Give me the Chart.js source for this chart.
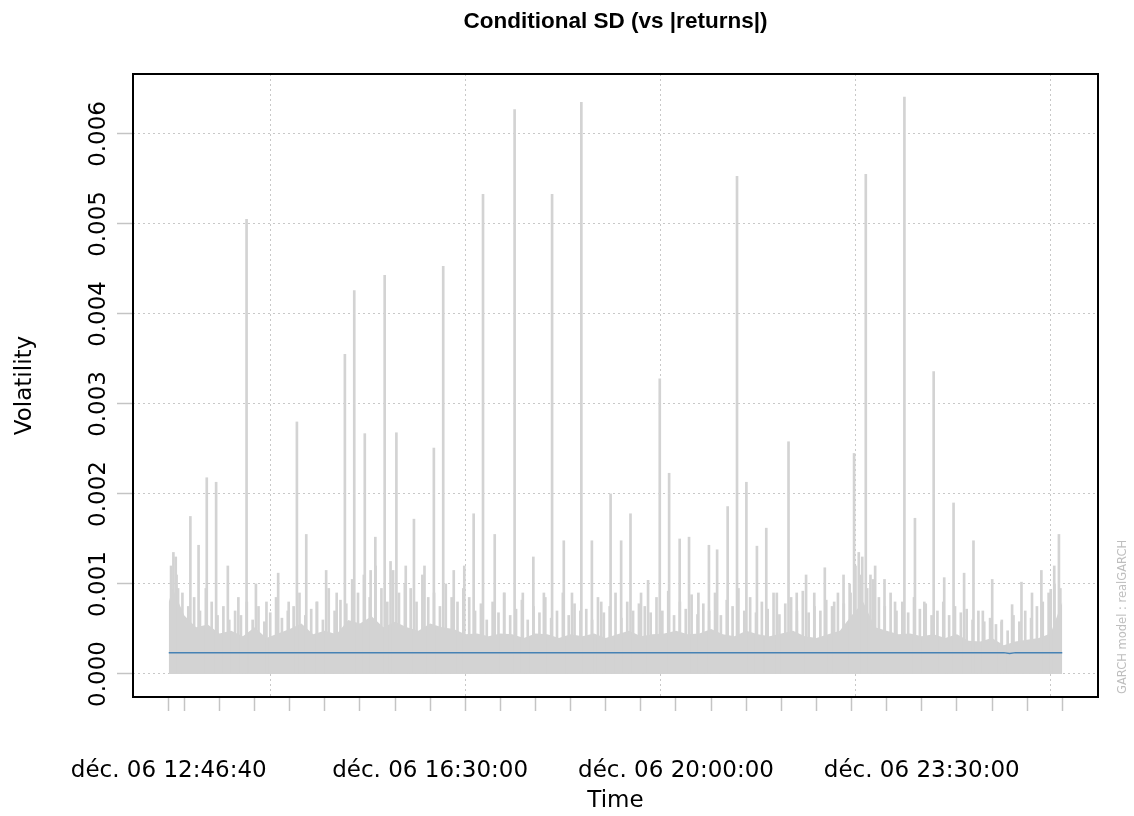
<!DOCTYPE html>
<html><head><meta charset="utf-8">
<script src="https://cdn.jsdelivr.net/npm/chart.js@4.4.1/dist/chart.umd.min.js"></script>
<style>html,body{margin:0;padding:0;background:#fff;}canvas{display:block;}</style>
</head><body>
<canvas id="c" width="1134" height="816"></canvas>
<script>
const chartTitle = 'Conditional SD (vs |returns|)';
const xAxisTitle = 'Time';
const yAxisTitle = 'Volatility';
const sideNote = 'GARCH model : realGARCH';

// time = minutes after déc. 06 12:00:00
const xTickTimes = [46.667, 60, 90, 120, 150, 180, 210, 240, 270, 300, 330, 360, 390, 420, 450, 480, 510, 540, 570, 600, 630, 660, 690, 720, 750, 780, 810];
const xTickLabels = ['déc. 06 12:46:40', '', '', '', '', '', '', '', 'déc. 06 16:30:00', '', '', '', '', '', '', 'déc. 06 20:00:00', '', '', '', '', '', '', 'déc. 06 23:30:00', '', '', '', ''];
const xGridTimes = [133.333, 300, 466.667, 633.333, 800];
const yTickValues = [0, 0.001, 0.002, 0.003, 0.004, 0.005, 0.006];
const yTickLabels = ['0.000', '0.001', '0.002', '0.003', '0.004', '0.005', '0.006'];

// |returns| : dense body level
const massTimes = [46.667, 50, 60, 70, 80, 90, 100, 110, 120, 130, 140, 150, 160, 170, 180, 190, 200, 210, 220, 230, 240, 250, 260, 270, 280, 290, 300, 310, 320, 330, 340, 350, 360, 370, 380, 390, 400, 410, 420, 430, 440, 450, 460, 470, 480, 490, 500, 510, 520, 530, 540, 550, 560, 570, 580, 590, 600, 610, 620, 630, 640, 650, 660, 670, 680, 690, 700, 710, 720, 730, 740, 750, 760, 770, 780, 790, 800, 810];
const massValues = [0.00080, 0.00095, 0.00065, 0.00052, 0.00055, 0.00045, 0.00048, 0.00042, 0.00052, 0.00040, 0.00045, 0.00050, 0.00056, 0.00044, 0.00048, 0.00044, 0.00060, 0.00056, 0.00064, 0.00052, 0.00058, 0.00052, 0.00048, 0.00056, 0.00052, 0.00050, 0.00044, 0.00045, 0.00042, 0.00045, 0.00044, 0.00040, 0.00045, 0.00044, 0.00040, 0.00044, 0.00042, 0.00045, 0.00040, 0.00044, 0.00048, 0.00042, 0.00044, 0.00045, 0.00048, 0.00044, 0.00045, 0.00050, 0.00044, 0.00042, 0.00048, 0.00044, 0.00042, 0.00045, 0.00048, 0.00042, 0.00040, 0.00044, 0.00048, 0.00065, 0.00080, 0.00052, 0.00048, 0.00044, 0.00045, 0.00042, 0.00044, 0.00040, 0.00044, 0.00037, 0.00036, 0.00040, 0.00032, 0.00036, 0.00038, 0.00040, 0.00045, 0.00080];

// |returns| : medium-height fringe of thin lines
const fringeTimes = [52.5, 57.5, 62.5, 67.5, 72.5, 77.5, 82.5, 87.5, 92.5, 97.5, 102.5, 107.5, 112.5, 117.5, 122.5, 127.5, 132.5, 137.5, 142.5, 147.5, 152.5, 157.5, 162.5, 167.5, 172.5, 177.5, 182.5, 187.5, 192.5, 197.5, 202.5, 207.5, 212.5, 217.5, 222.5, 227.5, 232.5, 237.5, 242.5, 247.5, 252.5, 257.5, 262.5, 267.5, 272.5, 277.5, 282.5, 287.5, 292.5, 297.5, 302.5, 307.5, 312.5, 317.5, 322.5, 327.5, 332.5, 337.5, 342.5, 347.5, 352.5, 357.5, 362.5, 367.5, 372.5, 377.5, 382.5, 387.5, 392.5, 397.5, 402.5, 407.5, 412.5, 417.5, 422.5, 427.5, 432.5, 437.5, 442.5, 447.5, 452.5, 457.5, 462.5, 467.5, 472.5, 477.5, 482.5, 487.5, 492.5, 497.5, 502.5, 507.5, 512.5, 517.5, 522.5, 527.5, 532.5, 537.5, 542.5, 547.5, 552.5, 557.5, 562.5, 567.5, 572.5, 577.5, 582.5, 587.5, 592.5, 597.5, 602.5, 607.5, 612.5, 617.5, 622.5, 627.5, 632.5, 637.5, 642.5, 647.5, 652.5, 657.5, 662.5, 667.5, 672.5, 677.5, 682.5, 687.5, 692.5, 697.5, 702.5, 707.5, 712.5, 717.5, 722.5, 727.5, 732.5, 737.5, 742.5, 747.5, 752.5, 757.5, 762.5, 767.5, 772.5, 777.5, 782.5, 787.5, 792.5, 797.5, 802.5, 807.5];
const fringeValues = [0.00110, 0.00090, 0.00075, 0.00085, 0.00070, 0.00095, 0.00080, 0.00065, 0.00075, 0.00060,
  0.00070, 0.00065, 0.00080, 0.00060, 0.00075, 0.00058, 0.00068, 0.00085, 0.00062, 0.00070,
  0.00075, 0.00090, 0.00065, 0.00072, 0.00080, 0.00060, 0.00095, 0.00070, 0.00082, 0.00078,
  0.00105, 0.00090, 0.00110, 0.00085, 0.00120, 0.00095, 0.00080, 0.00115, 0.00090, 0.00100,
  0.00095, 0.00080, 0.00110, 0.00085, 0.00090, 0.00075, 0.00100, 0.00085, 0.00080, 0.00095,
  0.00085, 0.00070, 0.00078, 0.00060, 0.00080, 0.00068, 0.00090, 0.00065, 0.00072, 0.00082,
  0.00060, 0.00075, 0.00068, 0.00085, 0.00062, 0.00070, 0.00090, 0.00065, 0.00078, 0.00070,
  0.00072, 0.00060, 0.00085, 0.00068, 0.00075, 0.00090, 0.00062, 0.00080, 0.00070, 0.00078,
  0.00075, 0.00068, 0.00085, 0.00070, 0.00092, 0.00065, 0.00080, 0.00072, 0.00088, 0.00066,
  0.00078, 0.00070, 0.00090, 0.00065, 0.00082, 0.00075, 0.00095, 0.00070, 0.00085, 0.00068,
  0.00080, 0.00072, 0.00090, 0.00066, 0.00078, 0.00085, 0.00070, 0.00092, 0.00068, 0.00075,
  0.00070, 0.00082, 0.00075, 0.00090, 0.00078, 0.00100, 0.00120, 0.00110, 0.00095, 0.00105,
  0.00085, 0.00075, 0.00090, 0.00070, 0.00080, 0.00068, 0.00085, 0.00072, 0.00078, 0.00065,
  0.00070, 0.00080, 0.00065, 0.00075, 0.00068, 0.00072, 0.00060, 0.00070, 0.00058, 0.00062,
  0.00055, 0.00060, 0.00048, 0.00065, 0.00058, 0.00070, 0.00062, 0.00075, 0.00080, 0.00090, 0.00100, 0.00095];

// |returns| : individual spikes
const spikeTimes = [49.5, 51.5, 53.5, 55.5, 66, 73, 80, 88, 98, 107, 114, 122, 131, 141, 150, 157, 165, 174, 182, 191, 198, 206, 215, 220, 224, 232, 237, 242, 250, 257, 266, 274, 282, 291, 300, 308, 316, 326, 334, 343, 350, 359, 368, 375, 385, 392, 400, 409, 417, 425, 434, 442, 451, 457, 467, 475, 484, 492, 500, 509, 516, 525, 533, 541, 550, 558, 567, 577, 584, 592, 599, 608, 616, 624, 630, 633, 637, 640, 643, 647, 651, 659, 668, 676, 685, 693, 701, 710, 718, 727, 735, 743, 751, 759, 768, 776, 785, 793, 801, 804, 808];
const spikeValues = [0.00120, 0.00135, 0.00130, 0.00095, 0.00175, 0.00143, 0.00218, 0.00213, 0.00120, 0.00085, 0.00505, 0.00100, 0.00080, 0.00112, 0.00080, 0.00280, 0.00155, 0.00080, 0.00115, 0.00090, 0.00355, 0.00426, 0.00267, 0.00115, 0.00152, 0.00443, 0.00125, 0.00268, 0.00120, 0.00172, 0.00120, 0.00251, 0.00453, 0.00115, 0.00120, 0.00178, 0.00533, 0.00155, 0.00090, 0.00627, 0.00090, 0.00130, 0.00090, 0.00533, 0.00148, 0.00090, 0.00635, 0.00148, 0.00080, 0.00200, 0.00148, 0.00178, 0.00090, 0.00104, 0.00328, 0.00223, 0.00150, 0.00152, 0.00090, 0.00143, 0.00138, 0.00186, 0.00553, 0.00213, 0.00142, 0.00162, 0.00090, 0.00258, 0.00090, 0.00110, 0.00090, 0.00118, 0.00080, 0.00110, 0.00090, 0.00245, 0.00135, 0.00130, 0.00555, 0.00110, 0.00120, 0.00105, 0.00080, 0.00641, 0.00173, 0.00080, 0.00336, 0.00107, 0.00190, 0.00112, 0.00148, 0.00070, 0.00105, 0.00058, 0.00077, 0.00102, 0.00090, 0.00115, 0.00094, 0.00120, 0.00155];

// conditional sigma
const sigmaTimes = [46.667, 100, 200, 300, 400, 500, 600, 700, 760, 765, 770, 810];
const sigmaValues = [0.000237, 0.000237, 0.000237, 0.000237, 0.000237, 0.000237, 0.000237, 0.000237, 0.000237, 0.000228, 0.000237, 0.000237];

const xMin = 16.13, xMax = 840.53;
const yMin = -0.000256, yMax = 0.006666;

const FONT = 'DejaVu Sans';
const GREY = '#d3d3d3';
const spikeData = spikeTimes.map((t, i) => ({x: t, y: spikeValues[i]}));
const fringeData = fringeTimes.map((t, i) => ({x: t, y: fringeValues[i]}));
const massData = massTimes.map((t, i) => ({x: t, y: massValues[i]}));
const sigmaData = sigmaTimes.map((t, i) => ({x: t, y: sigmaValues[i]}));

const framePlugin = {
  id: 'frame',
  afterDraw(chart) {
    const a = chart.chartArea, ctx = chart.ctx;
    ctx.save();
    ctx.strokeStyle = '#000';
    ctx.lineWidth = 2;
    ctx.strokeRect(a.left, a.top, a.right - a.left, a.bottom - a.top);
    ctx.translate(a.right + 25, a.bottom - 3);
    ctx.rotate(-Math.PI / 2);
    ctx.font = '11.5px "DejaVu Sans"';
    ctx.fillStyle = '#bebebe';
    ctx.textAlign = 'left';
    ctx.textBaseline = 'middle';
    ctx.fillText(sideNote, 0, 0);
    ctx.restore();
  }
};

new Chart(document.getElementById('c'), {
  type: 'bar',
  data: {
    datasets: [
      {type: 'line', label: 'sigma', data: sigmaData, borderColor: '#4682B4', borderWidth: 1.5, pointRadius: 0, fill: false, tension: 0, order: 0},
      {type: 'bar', label: '|returns| spikes', data: spikeData, backgroundColor: GREY, barThickness: 2, order: 1},
      {type: 'bar', label: '|returns| fringe', data: fringeData, backgroundColor: GREY, barThickness: 2, order: 2},
      {type: 'line', label: '|returns|', data: massData, borderWidth: 0, borderColor: GREY, backgroundColor: GREY, fill: 'origin', pointRadius: 0, tension: 0, order: 3}
    ]
  },
  options: {
    responsive: false,
    animation: false,
    devicePixelRatio: 1,
    layout: {padding: {top: 0, right: 36, bottom: 0, left: 0}},
    plugins: {
      legend: {display: false},
      tooltip: {enabled: false},
      title: {display: true, fullSize: false, text: chartTitle, color: '#000', font: {family: 'Liberation Sans', size: 22.5, weight: 'bold'}, padding: {top: 8, bottom: 39}}
    },
    scales: {
      x: {
        type: 'linear', position: 'bottom', min: xMin, max: xMax, offset: false,
        afterBuildTicks(s) { s.ticks = xTickTimes.map(v => ({value: v})); },
        afterFit(s) { s.height = 119; },
        ticks: {autoSkip: false, maxRotation: 0, minRotation: 0, padding: 46, color: '#000', font: {family: FONT, size: 23}, callback: (v, i) => xTickLabels[i]},
        grid: {offset: false, drawOnChartArea: false, drawTicks: true, tickLength: 14, tickColor: '#c4c4c4', tickWidth: 1.5},
        border: {display: false},
        title: {display: true, text: xAxisTitle, color: '#000', font: {family: FONT, size: 23}, padding: {top: 0, bottom: 1}}
      },
      x2: {
        type: 'linear', position: 'top', min: xMin, max: xMax, offset: false, z: 1,
        afterBuildTicks(s) { s.ticks = xGridTimes.map(v => ({value: v})); },
        afterFit(s) { s.height = 0; },
        ticks: {display: false},
        grid: {offset: false, drawTicks: false, color: '#c8c8c8', lineWidth: 1},
        border: {display: false, dash: [2, 3]}
      },
      y: {
        type: 'linear', position: 'left', min: yMin, max: yMax, z: 1,
        afterBuildTicks(s) { s.ticks = yTickValues.map(v => ({value: v})); },
        afterFit(s) { s.width = 133; },
        ticks: {minRotation: 90, maxRotation: 90, crossAlign: 'center', padding: -15, color: '#000', font: {family: FONT, size: 23}, callback: (v, i) => yTickLabels[i]},
        grid: {color: '#c8c8c8', lineWidth: 1, drawTicks: true, tickLength: 16, tickColor: '#c4c4c4', tickWidth: 1.5},
        border: {display: false, dash: [2, 3]},
        title: {display: true, text: yAxisTitle, color: '#000', font: {family: FONT, size: 23}, padding: {top: 11, bottom: 0}}
      }
    }
  },
  plugins: [framePlugin]
});
</script>
</body></html>
